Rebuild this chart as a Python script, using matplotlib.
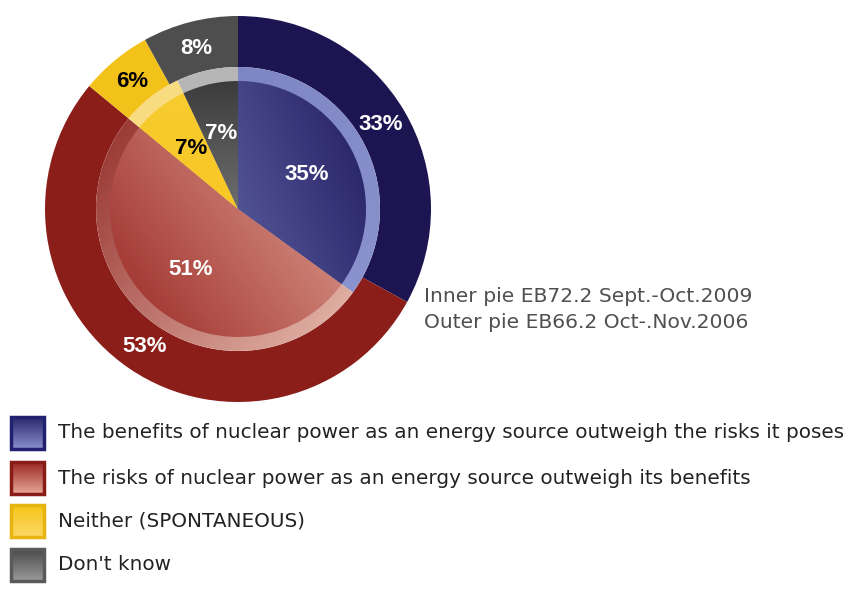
import numpy as np
import matplotlib.pyplot as plt
from matplotlib.colors import LinearSegmentedColormap
from matplotlib.patches import Rectangle

# survey answers, outer ring = EB66.2 (2006), inner pie = EB72.2 (2009)
categories = ["The benefits of nuclear power as an energy source outweigh the risks it poses",
              "The risks of nuclear power as an energy source outweigh its benefits",
              "Neither (SPONTANEOUS)",
              "Don't know"]
outer_vals = [33, 53, 6, 8]
inner_vals = [35, 51, 7, 7]
note_lines = ["Inner pie EB72.2 Sept.-Oct.2009", "Outer pie EB66.2 Oct-.Nov.2006"]

outer_cols = ["#1d1552", "#8c1e1a", "#f3c21a", "#4e4e4e"]
label_cols = ["white", "white", "black", "white"]
# inner wedge gradients (start colour, end colour, direction angle in deg)
inner_grad = [("#8088c6", "#221d62", 20),
              ("#9a2824", "#ecb8a8", 35),
              ("#f6c21a", "#f8cc30", 90),
              ("#a0a0a0", "#3c3c3c", 90)]
rim_grad = [("#7a82c2", "#8e96d0", -60),
            ("#8e2420", "#ecc4b8", -40),
            ("#f9dc80", "#f9dc80", 0),
            ("#b6b6b6", "#b6b6b6", 0)]
box_grad = [("#2a276e", "#8a90cc", "#222070"),
            ("#9a2622", "#e8a898", "#8a1c18"),
            ("#f6c416", "#fbd868", "#e8b410"),
            ("#4a4a4a", "#9a9a9a", "#5a5a5a")]

W, H = 853, 593
fig = plt.figure(figsize=(W / 100, H / 100), dpi=100)
ax = fig.add_axes([0, 0, 1, 1])

cx, cy = 238, H - 209
R_out, R_rim, R_in = 193, 142, 128
ring_w = R_out - R_rim


def gradient_fill(ax, patch, c1, c2, ang, x0, x1, y0, y1, z):
    n = 200
    xs = np.linspace(x0, x1, n)
    ys = np.linspace(y0, y1, n)
    X, Y = np.meshgrid(xs, ys)
    a = np.deg2rad(ang)
    t = X * np.cos(a) + Y * np.sin(a)
    t = (t - t.min()) / (t.max() - t.min())
    cmap = LinearSegmentedColormap.from_list("g", [c1, c2])
    im = ax.imshow(t, cmap=cmap, extent=[x0, x1, y0, y1], origin="lower",
                   interpolation="bilinear", zorder=z, aspect="auto")
    im.set_clip_path(patch)
    return im


# outer ring
wo, _ = ax.pie(outer_vals, radius=R_out, center=(cx, cy), startangle=90,
               counterclock=False, colors=outer_cols,
               wedgeprops=dict(width=ring_w, edgecolor="none"))

# inner pie: rim and body
wr, _ = ax.pie(inner_vals, radius=R_rim, center=(cx, cy), startangle=90,
               counterclock=False, colors=["none"] * 4,
               wedgeprops=dict(edgecolor="none"))
wi, _ = ax.pie(inner_vals, radius=R_in, center=(cx, cy), startangle=90,
               counterclock=False, colors=["none"] * 4,
               wedgeprops=dict(edgecolor="none"))
for i in range(4):
    c1, c2, ang = rim_grad[i]
    gradient_fill(ax, wr[i], c1, c2, ang, cx - R_rim, cx + R_rim,
                  cy - R_rim, cy + R_rim, 2)
    c1, c2, ang = inner_grad[i]
    gradient_fill(ax, wi[i], c1, c2, ang, cx - R_in, cx + R_in,
                  cy - R_in, cy + R_in, 3)

# percentage labels at wedge mid angles
for ws, vals, r in [(wo, outer_vals, 166), (wi, inner_vals, 77)]:
    for i, w in enumerate(ws):
        mid = np.deg2rad((w.theta1 + w.theta2) / 2)
        ax.text(cx + r * np.cos(mid), cy + r * np.sin(mid), f"{vals[i]}%",
                ha="center", va="center", fontsize=16, fontweight="bold",
                family="Liberation Sans", color=label_cols[i], zorder=5)

for k, line in enumerate(note_lines):
    ax.text(424, H - 296 - 26 * k, line, ha="left", va="center",
            fontsize=14.6, color="#505050", family="DejaVu Sans")

# legend with gradient boxes
row_y = [433, 478, 521, 565]
for i, lab in enumerate(categories):
    y = H - row_y[i]
    c1, c2, ec = box_grad[i]
    rect = Rectangle((11, y - 16), 33, 32, facecolor="none", edgecolor=ec,
                     lw=2.5, zorder=4)
    ax.add_patch(rect)
    gradient_fill(ax, rect, c1, c2, -90, 11, 44, y - 16, y + 16, 3)
    ax.text(58, y, lab, ha="left", va="center", fontsize=14.4,
            color="#222222", family="DejaVu Sans")

ax.set_xlim(0, W)
ax.set_ylim(0, H)
ax.set_aspect("auto")
ax.axis("off")
fig.savefig("out.png", dpi=100)
